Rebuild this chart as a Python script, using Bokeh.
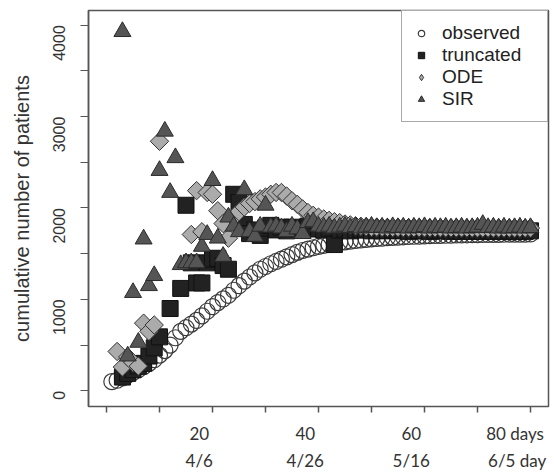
import math
from bokeh.plotting import figure
from bokeh.models import Range1d, FixedTicker, LinearAxis, Legend, LegendItem
from bokeh.embed import file_html
from bokeh.resources import INLINE

# ---------------- data ----------------
obs_days = list(range(1, 81))
obs_vals = [100, 115, 140, 170, 200, 230, 265, 300, 340, 390,
            440, 500, 580, 650, 690, 730, 770, 820, 870, 920,
            965, 1005, 1045, 1100, 1150, 1200, 1245, 1290, 1330, 1360,
            1390, 1415, 1440, 1465, 1490, 1515, 1535, 1550, 1565, 1580,
            1592, 1603, 1613, 1622, 1630, 1638, 1645, 1651, 1657, 1662,
            1667, 1671, 1675, 1679, 1682, 1685, 1688, 1691, 1693, 1695,
            1697, 1699, 1701, 1702, 1703, 1705, 1706, 1707, 1708, 1709,
            1710, 1711, 1712, 1712, 1713, 1714, 1714, 1715, 1715, 1716]

trunc_days = [3, 4, 5, 6, 7, 8, 9, 10, 12, 14, 15, 16, 17, 18, 19, 20,
              21, 22, 23, 24, 25, 26, 27, 28, 29, 30, 31, 32, 33, 34, 35,
              36, 37, 38, 39, 40, 41, 42, 43, 44, 45, 46, 47, 48, 49, 50,
              51, 52, 53, 54, 55, 56, 57, 58, 59, 60, 61, 62, 63, 64, 65,
              66, 67, 68, 69, 70, 71, 72, 73, 74, 75, 76, 77, 78, 79, 80]
trunc_vals = [150, 190, 230, 270, 300, 380, 470, 590, 900, 1120, 2030, 1400, 1180, 1180, 1400, 1440,
              1450, 1370, 1330, 2150, 2060, 1820, 1720, 1760, 1700, 1780, 1810, 1760, 1790, 1750, 1790,
              1780, 1760, 1800, 1790, 1770, 1760, 1780, 1600, 1760, 1770, 1750, 1760, 1770, 1760, 1750,
              1760, 1750, 1755, 1760, 1750, 1755, 1745, 1750, 1755, 1750, 1745, 1750, 1755, 1750, 1745,
              1750, 1745, 1750, 1745, 1750, 1745, 1750, 1745, 1750, 1745, 1750, 1745, 1750, 1745, 1750]

ode_days = [2, 3, 4, 5, 6, 7, 8, 9, 10, 16, 17, 18, 19, 20, 21, 22, 23, 24, 25,
            26, 27, 28, 29, 30, 31, 32, 33, 34, 35, 36, 37, 38, 39, 40, 41, 42,
            43, 44, 45, 46, 47, 48, 49, 50, 51, 52, 53, 54, 55, 56, 57, 58, 59,
            60, 61, 62, 63, 64, 65, 66, 67, 68, 69, 70, 71, 72, 73, 74, 75, 76,
            77, 78, 79, 80]
ode_vals = [430, 260, 370, 310, 270, 740, 650, 720, 2730, 1710, 2190, 1740, 2170, 2150, 1970, 1830, 1670, 1900, 1960,
            2010, 2050, 2070, 2100, 2120, 2150, 2170, 2170, 2130, 2080, 2040, 1990, 1950, 1920, 1900, 1880, 1865,
            1850, 1840, 1825, 1815, 1805, 1800, 1795, 1790, 1790, 1788, 1788, 1786, 1786, 1785, 1785, 1785, 1784,
            1784, 1784, 1783, 1783, 1783, 1782, 1782, 1782, 1782, 1781, 1781, 1781, 1781, 1780, 1780, 1780, 1780,
            1780, 1780, 1780, 1780]

sir_days = [3, 4, 5, 6, 7, 8, 9, 10, 11, 12, 13, 14, 15, 16, 17, 18, 19, 20,
            21, 22, 23, 24, 25, 26, 27, 28, 29, 30, 31, 32, 33, 34, 35, 36, 37,
            38, 39, 40, 41, 42, 43, 44, 45, 46, 47, 48, 49, 50, 51, 52, 53, 54,
            55, 56, 57, 58, 59, 60, 61, 62, 63, 64, 65, 66, 67, 68, 69, 70, 71,
            72, 73, 74, 75, 76, 77, 78, 79, 80]
sir_vals = [3930, 380, 1075, 530, 1660, 1150, 1260, 2410, 2840, 2170, 2550, 1380, 1400, 1400, 1400, 1580, 1710, 2300,
            1670, 1470, 1900, 1800, 1740, 2200, 1740, 1690, 1800, 2030, 1790, 1800, 1780, 1740, 1800, 1770, 1720,
            1840, 1850, 1800, 1790, 1800, 1780, 1790, 1800, 1785, 1795, 1780, 1790, 1800, 1785, 1790, 1780, 1795,
            1785, 1790, 1780, 1790, 1785, 1795, 1780, 1790, 1785, 1790, 1780, 1785, 1790, 1780, 1785, 1790, 1820,
            1785, 1790, 1780, 1790, 1780, 1785, 1790, 1780, 1785]

x_ticks = [0, 10, 20, 30, 40, 50, 60, 70, 80]
y_ticks = [0, 500, 1000, 1500, 2000, 2500, 3000, 3500, 4000]
y_labeled = [0, 1000, 2000, 3000, 4000]
label_days = [20, 40, 60, 80]
day_labels = ["20", "40", "60", "80  days"]
date_labels = ["4/6", "4/26", "5/16", "6/5 day"]
series_names = ["observed", "truncated", "ODE", "SIR"]

# ---------------- figure ----------------
p = figure(width=554, height=473, output_backend="svg", toolbar_location=None,
           x_range=Range1d(-3.4, 83.4), y_range=Range1d(-172, 4161),
           min_border_left=88, min_border_right=6, min_border_top=10, min_border_bottom=60)
p.xgrid.visible = False
p.ygrid.visible = False
p.outline_line_color = "#555555"
p.outline_line_width = 1.5
p.background_fill_color = "white"
p.border_fill_color = "white"

TXT = "#333333"

# y axis
ya = p.yaxis[0]
ya.ticker = FixedTicker(ticks=y_ticks)
ya.major_label_overrides = {t: (str(t) if t in y_labeled else "") for t in y_ticks}
ya.major_label_orientation = math.pi / 2
ya.major_label_text_font = "Liberation Sans"
ya.major_label_text_font_size = "16px"
ya.major_label_text_color = TXT
ya.major_label_standoff = 21
ya.major_tick_out = 8
ya.major_tick_in = 0
ya.major_tick_line_color = "#555555"
ya.minor_tick_line_color = None
ya.axis_line_color = "#555555"
ya.axis_line_width = 1.5
ya.axis_label = "cumulative number of patients"
ya.axis_label_text_font = "Liberation Sans"
ya.axis_label_text_font_size = "20px"
ya.axis_label_text_font_style = "normal"
ya.axis_label_text_color = TXT
ya.axis_label_standoff = 12

# x axis (ticks only)
xa = p.xaxis[0]
xa.ticker = FixedTicker(ticks=x_ticks)
xa.major_label_overrides = {t: "" for t in x_ticks}
xa.major_label_text_font_size = "1px"
xa.major_label_standoff = 0
xa.major_tick_out = 6
xa.major_tick_in = 0
xa.major_tick_line_color = "#555555"
xa.major_tick_line_width = 1.5
xa.minor_tick_line_color = None
xa.axis_line_color = None

def label_axis(labels, standoff):
    ticks = [d - 2.5 for d in label_days]
    ax = LinearAxis(ticker=FixedTicker(ticks=ticks),
                    major_label_overrides={t: s for t, s in zip(ticks, labels)},
                    axis_line_color=None, major_tick_line_color=None, minor_tick_line_color=None,
                    major_tick_out=0, major_tick_in=0, minor_tick_out=0,
                    major_label_standoff=standoff,
                    major_label_text_font="Lato", major_label_text_font_size="17px",
                    major_label_text_color=TXT)
    p.add_layout(ax, "below")

label_axis(day_labels, 10)
label_axis(date_labels, 3)

# ---------------- glyphs ----------------
circ = dict(marker="circle", fill_color=None, line_color="#3a3a3a", line_width=1.2)
sq = dict(marker="square", fill_color="#222222", line_color="#111111", line_width=1)
dia = dict(fill_color="#ababab", line_color="#333333", line_width=1)
tri = dict(marker="triangle", fill_color="#555555", line_color="#2b2b2b", line_width=1)

r_obs = p.scatter(obs_days, obs_vals, size=16, **circ)
r_trunc = p.scatter(trunc_days, trunc_vals, size=16, **sq)
r_ode = p.scatter(ode_days, ode_vals, marker="square", angle=math.pi / 4, size=13, **dia)
r_sir = p.scatter(sir_days, sir_vals, size=17, **tri)

# hidden twins of the series, used only to draw small legend symbols
l_obs = p.scatter(obs_days, obs_vals, size=9, visible=False, **circ)
l_trunc = p.scatter(trunc_days, trunc_vals, size=8, visible=False, **sq)
l_ode = p.scatter(ode_days, ode_vals, marker="diamond", size=14, visible=False, **dia)
l_sir = p.scatter(sir_days, sir_vals, size=10, visible=False, **tri)

legend = Legend(items=[LegendItem(label=n, renderers=[r]) for n, r in
                       zip(series_names, [l_obs, l_trunc, l_ode, l_sir])],
                location="top_right", margin=0, padding=11, spacing=0,
                glyph_width=16, glyph_height=16, label_height=22, label_standoff=13,
                label_width=94, label_text_font="Liberation Sans", label_text_font_size="19px",
                label_text_color="#222222", border_line_color="#555555", border_line_width=1.5,
                background_fill_color="white", background_fill_alpha=1.0,
                inactive_fill_alpha=0.0)
p.add_layout(legend)

open("out.html", "w").write(file_html(p, INLINE))
